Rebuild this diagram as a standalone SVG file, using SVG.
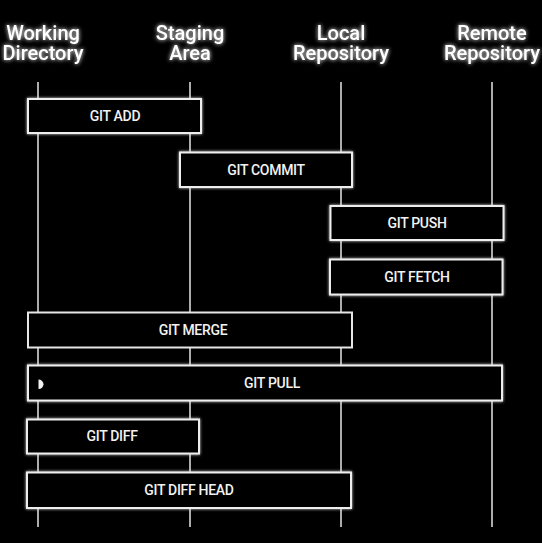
<svg xmlns="http://www.w3.org/2000/svg" width="542" height="543" viewBox="0 0 542 543">
<defs>
<filter id="glow" x="-20%" y="-50%" width="140%" height="200%">
<feGaussianBlur in="SourceGraphic" stdDeviation="1.8" result="b"/>
<feMerge><feMergeNode in="b"/><feMergeNode in="SourceGraphic"/></feMerge>
</filter>
<filter id="tglow" x="-20%" y="-50%" width="140%" height="200%">
<feGaussianBlur in="SourceGraphic" stdDeviation="2" result="b"/>
<feMerge><feMergeNode in="b"/><feMergeNode in="SourceGraphic"/></feMerge>
</filter>
</defs>
<style>
.hdr{font-family:Roboto,"Liberation Sans",sans-serif;font-size:20px;font-weight:500;fill:#fff;text-anchor:middle;filter:url(#tglow)}
.lane{stroke:#e6e6e6;stroke-width:1.5;fill:none}
.box{fill:#000;stroke:#eee;stroke-width:2;filter:url(#glow)}
.box2{fill:#000;stroke:#e6e6e6;stroke-width:2}
.lbl{font-family:Roboto,"Liberation Sans",sans-serif;font-size:14px;font-weight:500;fill:#f2f2f2;text-anchor:middle;letter-spacing:-0.3px}
</style>
<rect width="542" height="543" fill="#000"/>
<g id="headers">
<text class="hdr"><tspan x="43" y="40">Working</tspan><tspan x="43" y="60">Directory</tspan></text>
<text class="hdr"><tspan x="190" y="40">Staging</tspan><tspan x="190" y="60">Area</tspan></text>
<text class="hdr"><tspan x="341" y="40">Local</tspan><tspan x="341" y="60">Repository</tspan></text>
<text class="hdr"><tspan x="492" y="40">Remote</tspan><tspan x="492" y="60">Repository</tspan></text>
</g>
<g id="connectors">
<line class="lane" x1="38" y1="82" x2="38" y2="527"/>
<line class="lane" x1="190" y1="82" x2="190" y2="527"/>
<line class="lane" x1="341" y1="82" x2="341" y2="527"/>
<line class="lane" x1="492" y1="82" x2="492" y2="527"/>
</g>
<g id="git-add"><rect class="box" x="28" y="99" width="173" height="34"/><text class="lbl" x="115" y="121">GIT ADD</text></g>
<g id="git-commit"><rect class="box" x="180" y="152.5" width="172" height="34.5"/><text class="lbl" x="266" y="175">GIT COMMIT</text></g>
<g id="git-push"><rect class="box" x="330.5" y="206" width="173" height="34"/><text class="lbl" x="417" y="228">GIT PUSH</text></g>
<g id="git-fetch"><rect class="box" x="330" y="259.5" width="172.5" height="35"/><text class="lbl" x="417" y="282">GIT FETCH</text></g>
<g id="git-merge"><rect class="box2" x="28" y="312.5" width="324" height="35"/><text class="lbl" x="193" y="335">GIT MERGE</text></g>
<g id="git-pull"><rect class="box" x="28" y="365.5" width="474" height="35"/><path d="M38.5,379.5 A5,4.8 0 0 1 38.5,389.1 Z" fill="#f2f2f2"/><text class="lbl" x="272" y="388">GIT PULL</text></g>
<g id="git-diff"><rect class="box" x="27" y="419.5" width="172" height="34"/><text class="lbl" x="112" y="441">GIT DIFF</text></g>
<g id="git-diff-head"><rect class="box" x="27" y="472.5" width="324" height="35.5"/><text class="lbl" x="189" y="495">GIT DIFF HEAD</text></g>
</svg>
